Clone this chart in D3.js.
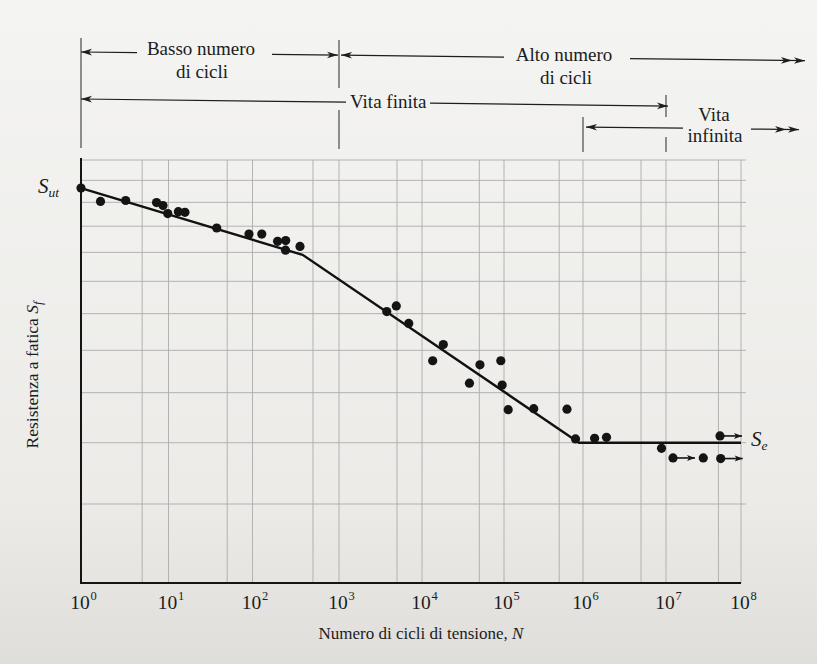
<!DOCTYPE html>
<html>
<head>
<meta charset="utf-8">
<script src="https://cdn.jsdelivr.net/npm/d3@7"></script>
<style>
  html, body { margin: 0; padding: 0; background: #efeeea; }
  svg { display: block; font-family: "Liberation Serif", "Times New Roman", serif; }
</style>
</head>
<body>
<svg id="chart" width="817" height="664"></svg>
<script>
// S–N diagram: fatigue strength S_f against number of stress cycles N (log–log)

// Axis decades and grid
const decadeExponents = [0, 1, 2, 3, 4, 5, 6, 7, 8];
const gridCycles = [1, 5, 10, 50, 100, 500, 1e3, 5e3, 1e4, 5e4, 1e5, 5e5, 1e6, 5e6, 1e7, 5e7, 1e8];
const gridStrength = [30, 40, 50, 60, 70, 80, 90, 100, 110, 120, 130, 140];

// Test results: cycles to failure and stress level
const testCycles = [
  1, 1.67, 3.24, 7.3, 8.65, 9.8, 13.1, 15.7, 37.5, 90.8,
  128, 195, 242, 241, 354,
  3760, 4900, 6920, 18200, 13500, 50900, 37900, 91400, 95000, 113000,
  238000, 627000, 804000,
  1.38e6, 1.92e6, 8.83e6, 1.24e7, 3.14e7, 5.36e7, 5.25e7
];
const testStrength = [
  126.4, 120.4, 120.8, 119.9, 118.6, 115.2, 116.0, 115.7, 109.3, 106.9,
  106.9, 104.1, 104.4, 100.8, 102.2,
  80.6, 82.3, 77.2, 71.5, 67.4, 66.4, 62.1, 67.4, 61.7, 56.4,
  56.6, 56.5, 50.7,
  50.8, 51.0, 49.0, 47.3, 47.3, 47.2, 51.25
];
// true = specimen unbroken at end of test (runout)
const runout = [
  false, false, false, false, false, false, false, false, false, false,
  false, false, false, false, false,
  false, false, false, false, false, false, false, false, false, false,
  false, false, false,
  false, false, false, true, false, true, true
];

// Mean S–N line: low-cycle branch, finite-life branch, endurance limit
const curveCycles = [1, 380, 8.9e5, 1e8];
const curveStrength = [126.4, 99.1, 50, 50];
const Sut = 126.4;
const Se = 50;

const W = 817, H = 664;
const svg = d3.select("#chart");
const defs = svg.append("defs");

// paper tone
const grad = defs.append("linearGradient").attr("id", "paper")
  .attr("x1", 0).attr("y1", 0).attr("x2", 0).attr("y2", 1);
grad.append("stop").attr("offset", "0%").attr("stop-color", "#f4f4f2");
grad.append("stop").attr("offset", "75%").attr("stop-color", "#ecebe8");
grad.append("stop").attr("offset", "100%").attr("stop-color", "#dfdeda");
svg.append("rect").attr("width", W).attr("height", H).attr("fill", "url(#paper)");

// arrowheads
function marker(id, d, vb, w, color) {
  defs.append("marker").attr("id", id)
    .attr("viewBox", vb).attr("refX", 0).attr("refY", 0)
    .attr("markerWidth", w).attr("markerHeight", 8)
    .attr("markerUnits", "userSpaceOnUse")
    .attr("orient", "auto-start-reverse")
    .append("path").attr("d", d).attr("fill", color);
}
marker("head", "M0,0L-11,-3.3L-8,0L-11,3.3Z", "-12 -4 13 8", 13, "#1e1e1e");
marker("head2", "M0,0L-11,-3.3L-8,0L-11,3.3Z M-13,0L-24,-3.3L-21,0L-24,3.3Z", "-25 -4 26 8", 26, "#1e1e1e");
marker("runHead", "M0,0L-8,-3L-6,0L-8,3Z", "-9 -4 10 8", 10, "#151515");

// scales (the printed decades are slightly uneven)
const x = d3.scaleLog()
  .domain(decadeExponents.map(e => Math.pow(10, e)))
  .range([81, 168.5, 252.5, 339, 422, 504, 583, 666, 741]);
const y = d3.scaleLog().domain([30, 140]).range([583, 160]);

// grid
const grid = svg.append("g").attr("stroke", "#ababab").attr("stroke-width", 0.9);
grid.selectAll("line.v").data(gridCycles.slice(1)).join("line")
  .attr("x1", d => x(d)).attr("x2", d => x(d))
  .attr("y1", y(140)).attr("y2", y(30));
grid.selectAll("line.h").data(gridStrength.slice(1)).join("line")
  .attr("x1", x(1)).attr("x2", x(1e8) + 5)
  .attr("y1", d => y(d)).attr("y2", d => y(d));

// axes
svg.append("line").attr("x1", x(1)).attr("x2", x(1))
  .attr("y1", y(140) - 2).attr("y2", y(30) + 1)
  .attr("stroke", "#151515").attr("stroke-width", 2);
svg.append("line").attr("x1", x(1) - 1).attr("x2", x(1e8))
  .attr("y1", y(30)).attr("y2", y(30))
  .attr("stroke", "#151515").attr("stroke-width", 2);

// tick labels 10^n
const ticks = svg.append("g").attr("fill", "#1c1c1c");
decadeExponents.forEach(e => {
  const cx = x(Math.pow(10, e));
  ticks.append("text").attr("x", cx - 1).attr("y", 609)
    .attr("text-anchor", "middle").attr("font-size", 19.5).text("10");
  ticks.append("text").attr("x", cx + 9.5).attr("y", 600)
    .attr("font-size", 12.5).text(String(e));
});

// axis titles
const xt = svg.append("text").attr("x", 421).attr("y", 639)
  .attr("text-anchor", "middle").attr("font-size", 17).attr("fill", "#1c1c1c");
xt.append("tspan").text("Numero di cicli di tensione, ");
xt.append("tspan").attr("font-style", "italic").text("N");

const yt = svg.append("text").attr("transform", "translate(38,375) rotate(-90)")
  .attr("text-anchor", "middle").attr("font-size", 17.5).attr("fill", "#1c1c1c");
yt.append("tspan").text("Resistenza a fatica ");
yt.append("tspan").attr("font-style", "italic").text("S");
yt.append("tspan").attr("font-style", "italic").attr("font-size", 12.5).attr("dy", 4).text("f");

// S–N line
const line = d3.line().x(d => x(d[0])).y(d => y(d[1]));
svg.append("path").datum(d3.zip(curveCycles, curveStrength))
  .attr("d", line).attr("fill", "none")
  .attr("stroke", "#111").attr("stroke-width", 2.4).attr("stroke-linejoin", "round");

// runout arrows
const tests = d3.zip(testCycles, testStrength, runout);
svg.append("g").selectAll("line").data(tests.filter(d => d[2])).join("line")
  .attr("x1", d => x(d[0]) + 3).attr("x2", d => x(d[0]) + 22)
  .attr("y1", d => y(d[1])).attr("y2", d => y(d[1]))
  .attr("stroke", "#151515").attr("stroke-width", 1.6)
  .attr("marker-end", "url(#runHead)");

// test points
svg.append("g").selectAll("circle").data(tests).join("circle")
  .attr("cx", d => x(d[0])).attr("cy", d => y(d[1])).attr("r", 4.6)
  .attr("fill", "#141414");

// S_ut and S_e labels
const lut = svg.append("text").attr("x", x(1) - 22).attr("y", y(Sut) + 5)
  .attr("text-anchor", "end").attr("font-size", 21).attr("font-style", "italic").attr("fill", "#1c1c1c");
lut.append("tspan").text("S");
lut.append("tspan").attr("font-size", 13.5).attr("dy", 4).text("ut");

const lse = svg.append("text").attr("x", x(1e8) + 10).attr("y", y(Se) + 3)
  .attr("font-size", 21).attr("font-style", "italic").attr("fill", "#1c1c1c");
lse.append("tspan").text("S");
lse.append("tspan").attr("font-size", 13.5).attr("dy", 4).text("e");

// life-range annotations above the plot
const ann = svg.append("g").attr("stroke", "#1e1e1e").attr("stroke-width", 1.2).attr("fill", "none");
const tilt = 0.012;
const rowY = (y0, px) => y0 + tilt * (px - x(1));
function seg(x1, x2, y0, startHead, endHead) {
  const l = ann.append("line")
    .attr("x1", x1).attr("x2", x2)
    .attr("y1", rowY(y0, x1)).attr("y2", rowY(y0, x2));
  if (startHead) l.attr("marker-start", `url(#${startHead})`);
  if (endHead) l.attr("marker-end", `url(#${endHead})`);
}
function label(txt, px, y0, dy, anchor) {
  svg.append("text").attr("x", px).attr("y", rowY(y0, px) + dy)
    .attr("text-anchor", anchor || "middle").attr("font-size", 19).attr("fill", "#1c1c1c").text(txt);
}
function tick(px, a, b) {
  ann.append("line").attr("x1", px).attr("x2", px).attr("y1", a).attr("y2", b)
    .attr("stroke", "#3a3a3a").attr("stroke-width", 1.1);
}

// range boundaries
tick(x(1), 38, 148);
tick(x(1e3), 40, 88); tick(x(1e3), 110, 149);
tick(x(1e6), 117, 152);
tick(x(1e7), 95, 117); tick(x(1e7), 137, 152);

// row 1: low / high cycle
seg(x(1), 137, 52, "head", null);
seg(272, x(1e3) - 1, 52, null, "head");
label("Basso numero", 201, 52, 2);
label("di cicli", 202, 52, 25);
seg(x(1e3) + 2, 504, 52, "head", null);
seg(630, 805, 52, null, "head2");
label("Alto numero", 564, 52, 3);
label("di cicli", 566, 52, 26);

// row 2: finite life
seg(x(1), 346, 99, "head", null);
label("Vita finita", 350, 99, 5.5, "start");
seg(430, x(1e7) + 2, 99, null, "head");

// row 3: infinite life
seg(x(1e6) + 3, 683, 121, "head", null);
label("Vita", 714, 121, -8);
label("infinita", 715, 121, 13);
seg(751, 799, 121, null, "head2");
</script>
</body>
</html>
